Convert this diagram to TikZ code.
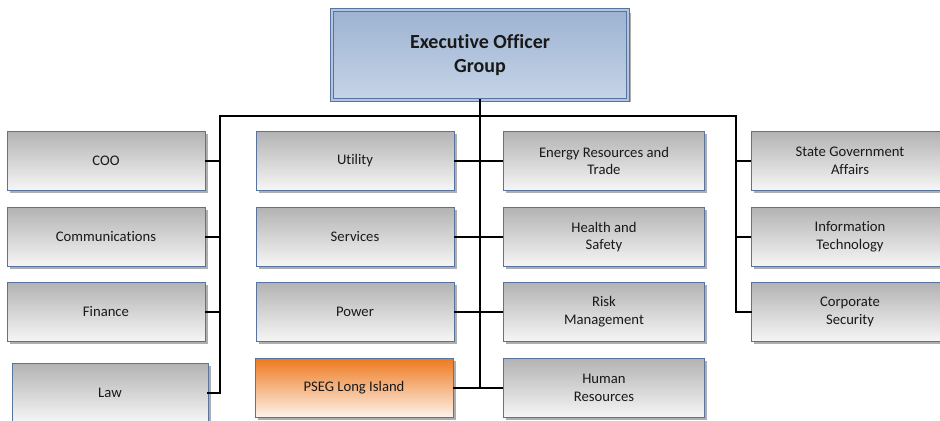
\documentclass[tikz,border=0pt]{standalone}
\usepackage{fontspec}
\setmainfont{Carlito}[Ligatures=NoCommon]
\usetikzlibrary{shadows}

\definecolor{boxline}{HTML}{56749F}
\definecolor{greytop}{HTML}{B3B3B3}
\definecolor{greybot}{HTML}{F6F6F6}
\definecolor{orangetop}{HTML}{EE7A20}
\definecolor{orangebot}{HTML}{FDF3EB}
\definecolor{eogtop}{HTML}{9DB3D2}
\definecolor{eogbot}{HTML}{C6D4E7}
\definecolor{eoggap}{HTML}{B4C6DF}

\begin{document}
\begin{tikzpicture}[x=0.75pt,y=0.75pt,
	unit/.style={draw=boxline, line width=0.6pt, top color=greytop, bottom color=greybot,
		minimum width=148.5pt, minimum height=44pt, align=center, text=black!90,
		font=\fontsize{11}{13.3}\selectfont,
		drop shadow={shadow xshift=2pt, shadow yshift=-2pt, fill=black!45, opacity=.7}},
	focus/.style={unit, top color=orangetop, bottom color=orangebot},
	trunk/.style={line width=1.5pt, line cap=rect},
	stub/.style={line width=1.2pt}]
	\clip (0,0) rectangle (940,421);

	% head of the chart
	\node[unit, double=eoggap, double distance=1.4pt, line width=0.7pt,
		top color=eogtop, bottom color=eogbot,
		minimum width=222pt, minimum height=67pt,
		font=\fontsize{15}{17.5}\selectfont\bfseries] (eog) at (480,366) {Executive Officer\\Group};

	% left column
	\node[unit] (coo)  at (106,260) {COO};
	\node[unit] (comm) at (106,184) {Communications};
	\node[unit] (fin)  at (106,109) {Finance};
	\node[unit, minimum width=147pt] (law) at (110,28) {Law};

	% middle columns
	\node[unit]  (util)  at (355,260) {Utility};
	\node[unit]  (serv)  at (355,184) {Services};
	\node[unit]  (power) at (355,109) {Power};
	\node[focus] (pseg)  at (354,33)  {PSEG Long Island};

	\node[unit, minimum width=151pt] (energy) at (604,260) {Energy Resources and\\Trade};
	\node[unit, minimum width=151pt] (health) at (604,184) {Health and\\Safety};
	\node[unit, minimum width=151pt] (risk)   at (604,109) {Risk\\Management};
	\node[unit, minimum width=151pt] (hr)     at (604,33)  {Human\\Resources};

	% right column
	\node[unit] (stategov) at (850,260) {State Government\\Affairs};
	\node[unit] (infotech) at (850,184) {Information\\Technology};
	\node[unit] (security) at (850,109) {Corporate\\Security};

	% connectors
	\coordinate (lt) at (220,305);
	\coordinate (rt) at (736,305);
	\draw[trunk] (law.east) -| (lt) -- (rt) |- (security.west);
	\draw[trunk] (eog.south) -- (eog.south |- pseg.east);
	\foreach \n in {coo,comm,fin}
		\draw[stub] (\n.east) -- (\n.east -| lt);
	\foreach \n in {stategov,infotech}
		\draw[stub] (\n.west) -- (\n.west -| rt);
	\foreach \n in {util,serv,power,pseg}
		\draw[stub] (\n.east) -- (\n.east -| eog.south);
	\foreach \n in {energy,health,risk,hr}
		\draw[stub] (\n.west) -- (\n.west -| eog.south);
\end{tikzpicture}
\end{document}
